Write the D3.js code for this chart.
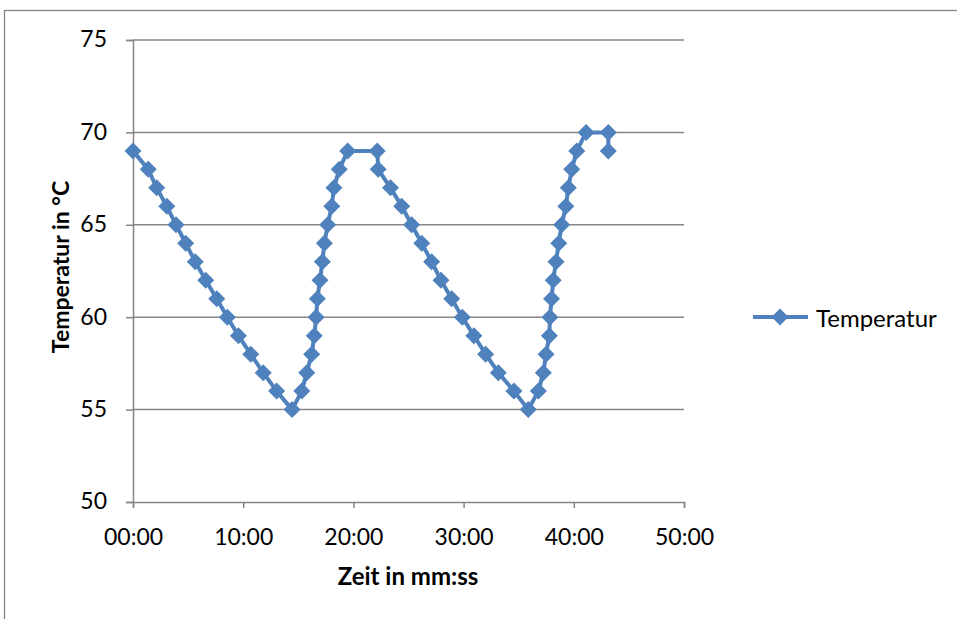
<!DOCTYPE html>
<html>
<head>
<meta charset="utf-8">
<script src="https://cdn.jsdelivr.net/npm/d3@7"></script>
<style>
  body { margin: 0; background: #fff; }
</style>
</head>
<body>
<div id="chart"></div>
<script>
// Data: time (mm:ss) and temperature (°C)
var times = [
  "00:00", "01:23", "02:09", "03:04", "03:54", "04:47", "05:39", "06:36", "07:36", "08:34",
  "09:34", "10:41", "11:49", "13:02", "14:26", "15:19", "15:46", "16:13", "16:27", "16:37",
  "16:44", "16:58", "17:11", "17:22", "17:40", "18:02", "18:14", "18:43", "19:29", "22:10",
  "22:15", "23:22", "24:23", "25:17", "26:12", "27:06", "27:57", "28:55", "29:53", "30:56",
  "32:00", "33:09", "34:34", "35:52", "36:47", "37:14", "37:29", "37:47", "37:50", "37:59",
  "38:08", "38:23", "38:38", "38:54", "39:17", "39:30", "39:49", "40:16", "41:07", "43:08",
  "43:08"
];
var temps = [
  69, 68, 67, 66, 65, 64, 63, 62, 61, 60,
  59, 58, 57, 56, 55, 56, 57, 58, 59, 60,
  61, 62, 63, 64, 65, 66, 67, 68, 69, 69,
  68, 67, 66, 65, 64, 63, 62, 61, 60, 59,
  58, 57, 56, 55, 56, 57, 58, 59, 60, 61,
  62, 63, 64, 65, 66, 67, 68, 69, 70, 70,
  69
];
var xTicks = [0, 10, 20, 30, 40, 50];   // minutes
var yTicks = [50, 55, 60, 65, 70, 75];
var seriesName = "Temperatur";

// Define svg dimensions
var svgWidth = 957;
var svgHeight = 619;

var plot = { left: 133, right: 684, top: 40, bottom: 502 };
var blue = "#4F81BD";
var grey = "#868686";
var font = "Lato, 'Open Sans', sans-serif";

function toMinutes(s) {
  var p = s.split(":");
  return +p[0] + (+p[1]) / 60;
}

var data = times.map(function(t, i) {
  return { t: toMinutes(t), v: temps[i] };
});

var svg = d3.select("#chart")
  .append("svg")
  .attr("width", svgWidth)
  .attr("height", svgHeight);

// Outer chart frame (clipped at right and bottom like the source)
svg.append("rect")
  .attr("x", 4.5)
  .attr("y", 10.5)
  .attr("width", 1000)
  .attr("height", 1000)
  .attr("fill", "none")
  .attr("stroke", grey)
  .attr("stroke-width", 1.3);

var x = d3.scaleLinear().domain([0, 50]).range([plot.left, plot.right]);
var y = d3.scaleLinear().domain([50, 75]).range([plot.bottom, plot.top]);

// Horizontal gridlines
svg.append("g")
  .selectAll("line")
  .data(yTicks.filter(d => d > 50))
  .enter()
  .append("line")
  .attr("x1", plot.left)
  .attr("x2", plot.right)
  .attr("y1", d => y(d))
  .attr("y2", d => y(d))
  .attr("stroke", grey)
  .attr("stroke-width", 1.5);

// Y axis
var yAxis = svg.append("g")
  .attr("transform", `translate(${plot.left}, 0)`)
  .call(d3.axisLeft(y).tickValues(yTicks).tickSize(7).tickPadding(19));

// X axis
var xAxis = svg.append("g")
  .attr("transform", `translate(0, ${plot.bottom})`)
  .call(d3.axisBottom(x).tickValues(xTicks).tickSize(6).tickPadding(21)
    .tickFormat(d => d3.format("02d")(d) + ":00"));

[xAxis, yAxis].forEach(function(ax) {
  ax.select(".domain").attr("stroke", grey).attr("stroke-width", 1.5);
  ax.selectAll(".tick line").attr("stroke", grey).attr("stroke-width", 1.5);
  ax.selectAll(".tick text")
    .attr("font-size", "23px")
    .attr("font-family", font)
    .attr("fill", "#000");
});
yAxis.selectAll(".tick text").attr("dy", "0.3em");

// Series line
var line = d3.line()
  .x(d => x(d.t))
  .y(d => y(d.v));

svg.append("path")
  .datum(data)
  .attr("d", line)
  .attr("fill", "none")
  .attr("stroke", blue)
  .attr("stroke-width", 4)
  .attr("stroke-linejoin", "round");

// Diamond markers
var diamond = "M0,-8.5L8.5,0L0,8.5L-8.5,0Z";
svg.append("g")
  .selectAll("path")
  .data(data)
  .enter()
  .append("path")
  .attr("d", diamond)
  .attr("transform", d => `translate(${x(d.t)}, ${y(d.v)})`)
  .attr("fill", blue);

// Axis titles
svg.append("text")
  .attr("x", 408)
  .attr("y", 585)
  .attr("text-anchor", "middle")
  .attr("font-size", "24px")
  .attr("font-weight", "bold")
  .attr("font-family", font)
  .text("Zeit in mm:ss");

svg.append("text")
  .attr("transform", `translate(69, 267) rotate(-90)`)
  .attr("text-anchor", "middle")
  .attr("font-size", "23px")
  .attr("font-weight", "bold")
  .attr("font-family", font)
  .text("Temperatur in °C");

// Legend
var legend = svg.append("g").attr("transform", "translate(753, 317)");
legend.append("line")
  .attr("x1", 0).attr("x2", 55)
  .attr("stroke", blue).attr("stroke-width", 4);
legend.append("path")
  .attr("d", diamond)
  .attr("transform", "translate(27, 0)")
  .attr("fill", blue);
legend.append("text")
  .attr("x", 63)
  .attr("y", 9.5)
  .attr("font-size", "24px")
  .attr("font-family", font)
  .text(seriesName);
</script>
</body>
</html>
